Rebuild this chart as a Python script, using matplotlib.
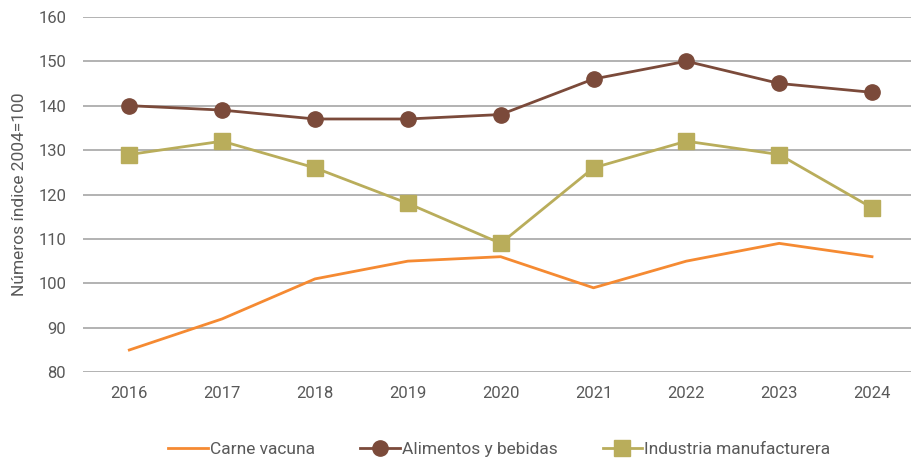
import numpy as np
import matplotlib
matplotlib.use('Agg')
import matplotlib.pyplot as plt

plt.rcParams['font.family'] = ['Roboto', 'DejaVu Sans']

years = ['2016', '2017', '2018', '2019', '2020', '2021', '2022', '2023', '2024']
carne = [85, 92, 101, 105, 106, 99, 105, 109, 106]
alimentos = [140, 139, 137, 137, 138, 146, 150, 145, 143]
industria = [129, 132, 126, 118, 109, 126, 132, 129, 117]

TEXT = '#595959'

fig = plt.figure(figsize=(9.11, 4.67), dpi=100)
ax = fig.add_axes([0.091, 0.203, 0.909, 0.761])

x = np.arange(len(years))
ax.plot(x, carne, color='#F58A32', lw=2, label='Carne vacuna')
ax.plot(x, alimentos, color='#7B4A3A', lw=2, marker='o', ms=11, label='Alimentos y bebidas')
ax.plot(x, industria, color='#B9AD5B', lw=2, marker='s', ms=11, label='Industria manufacturera')

ax.set_ylim(80, 160)
ax.set_yticks(range(80, 161, 10))
ax.set_xlim(-0.5, 8.42)
ax.set_xticks(x)
ax.set_xticklabels(years)
ax.yaxis.grid(True, color='#A6A6A6', lw=1.2)
ax.set_axisbelow(True)
for s in ax.spines.values():
    s.set_visible(False)
ax.tick_params(length=0, labelsize=12, colors=TEXT, pad=10)
ax.tick_params(axis='y', pad=12)
ax.set_ylabel('Números índice 2004=100', fontsize=12.5, color=TEXT, labelpad=8)

fig.legend(loc='lower center', bbox_to_anchor=(0.548, -0.012), ncol=3, frameon=False,
           fontsize=12.5, labelcolor=TEXT, handlelength=2.3, handletextpad=0.1,
           columnspacing=2.6)

fig.savefig('out.png', dpi=100)
